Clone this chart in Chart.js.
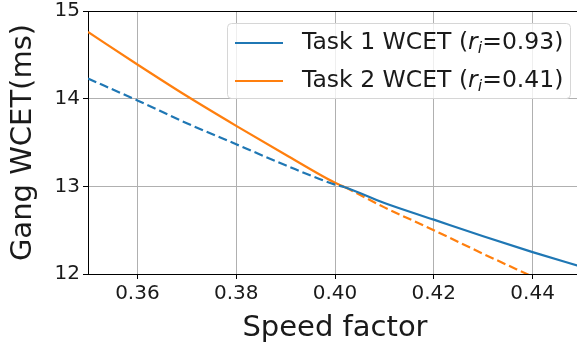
<!DOCTYPE html>
<html>
<head>
<meta charset="utf-8">
<script src="https://cdn.jsdelivr.net/npm/chart.js@4/dist/chart.umd.min.js"></script>
<style>
  html, body { margin: 0; padding: 0; background: #fff; overflow: hidden; }
  #wrap { position: relative; width: 583px; height: 348px; }
</style>
</head>
<body>
<div id="wrap"><canvas id="chart"></canvas></div>
<script>
/* -------------------------
   DATA
------------------------- */
const speedFactor = [0.35, 0.36, 0.37, 0.38, 0.39, 0.40, 0.402, 0.41, 0.42, 0.43, 0.44, 0.45];
const task1Wcet   = [14.23, 13.98, 13.72, 13.48, 13.24, 13.02, 12.99, 12.81, 12.62, 12.43, 12.25, 12.08];
const task2Wcet   = [14.76, 14.39, 14.03, 13.69, 13.36, 13.04, 12.99, 12.76, 12.50, 12.23, 11.97, null];
const taskNames   = ["Task 1 WCET", "Task 2 WCET"];
const taskRatios  = ["0.93", "0.41"];
const crossAt     = 0.402;   // where the curves swap solid / dashed
const xTicks      = [0.36, 0.38, 0.40, 0.42, 0.44];
const yTicks      = [12, 13, 14, 15];

const BLUE = "#1f77b4";
const ORANGE = "#ff7f0e";
const FONT = '"DejaVu Sans", sans-serif';
const TEXT = "#1a1a1a";
const DASH = [9, 4];

function toPoints(ys) {
  return speedFactor.map((x, i) => ({ x, y: ys[i] })).filter(p => p.y !== null);
}

/* -------------------------
   PLUGINS
------------------------- */
// top + right spines (chart.js only draws left/bottom borders)
const frame = {
  id: "frame",
  afterDatasetsDraw(chart) {
    const { ctx, chartArea: a } = chart;
    ctx.save();
    ctx.strokeStyle = "#000";
    ctx.lineWidth = 1;
    ctx.beginPath();
    ctx.moveTo(a.left, a.top + 0.5);
    ctx.lineTo(a.right - 0.5, a.top + 0.5);
    ctx.lineTo(a.right - 0.5, a.bottom);
    ctx.stroke();
    ctx.restore();
  }
};

// legend with italic r and subscript i
const mplLegend = {
  id: "mplLegend",
  afterDraw(chart) {
    const ctx = chart.ctx;
    const bx = 227, by = 23, bw = 343, bh = 75, r = 4;
    ctx.save();
    ctx.beginPath();
    ctx.roundRect(bx + 0.5, by + 0.5, bw, bh, r);
    ctx.fillStyle = "rgba(255,255,255,0.8)";
    ctx.fill();
    ctx.strokeStyle = "#d6d6d6";
    ctx.lineWidth = 1;
    ctx.stroke();

    const colors = [BLUE, ORANGE];
    const rows = [43, 81];
    rows.forEach((y, i) => {
      ctx.strokeStyle = colors[i];
      ctx.lineWidth = 2;
      ctx.beginPath();
      ctx.moveTo(235, y);
      ctx.lineTo(283, y);
      ctx.stroke();

      ctx.fillStyle = TEXT;
      ctx.textBaseline = "middle";
      ctx.textAlign = "left";
      let x = 302;
      const put = (txt, font, dy) => {
        ctx.font = font;
        ctx.fillText(txt, x, y + (dy || 0));
        x += ctx.measureText(txt).width;
      };
      put(taskNames[i] + " (", "23.5px " + FONT);
      put("r", "italic 23.5px " + FONT);
      put("i", "italic 16px " + FONT, 6);
      put("=" + taskRatios[i] + ")", "23.5px " + FONT);
    });
    ctx.restore();
  }
};

/* -------------------------
   CHART
------------------------- */
new Chart(document.getElementById("chart"), {
  type: "line",
  data: {
    datasets: [
      {
        label: taskNames[0],
        data: toPoints(task1Wcet),
        borderColor: BLUE,
        borderWidth: 2.2,
        pointRadius: 0,
        cubicInterpolationMode: "monotone",
        segment: { borderDash: c => (c.p0.parsed.x < crossAt ? DASH : []) }
      },
      {
        label: taskNames[1],
        data: toPoints(task2Wcet),
        borderColor: ORANGE,
        borderWidth: 2.2,
        pointRadius: 0,
        cubicInterpolationMode: "monotone",
        segment: { borderDash: c => (c.p0.parsed.x < crossAt ? [] : DASH) }
      }
    ]
  },
  options: {
    responsive: true,
    maintainAspectRatio: false,
    animation: false,
    layout: { padding: { top: 11, right: 1, left: 0, bottom: 0 } },
    plugins: { legend: { display: false }, tooltip: { enabled: false } },
    scales: {
      x: {
        type: "linear",
        min: 0.35,
        max: 0.45,
        afterBuildTicks: s => { s.ticks = xTicks.map(v => ({ value: v })); },
        afterFit: s => { s.height = 74; s.paddingLeft = 0; s.paddingRight = 0; },
        ticks: {
          color: TEXT,
          font: { family: FONT, size: 20 },
          padding: 3,
          maxRotation: 0,
          callback: v => v.toFixed(2)
        },
        grid: { color: "#b0b0b0", tickColor: "#000", tickLength: 5, lineWidth: 1 },
        border: { color: "#000", width: 1 },
        title: {
          display: true,
          text: "Speed factor",
          color: TEXT,
          font: { family: FONT, size: 29 },
          padding: { top: 0, bottom: 2 }
        }
      },
      y: {
        min: 12,
        max: 15,
        afterBuildTicks: s => { s.ticks = yTicks.map(v => ({ value: v })); },
        afterFit: s => { s.width = 88; s.paddingTop = 0; s.paddingBottom = 0; },
        ticks: {
          color: TEXT,
          font: { family: FONT, size: 20 },
          padding: 3,
          callback: v => String(v)
        },
        grid: { color: "#b0b0b0", tickColor: "#000", tickLength: 5, lineWidth: 1 },
        border: { color: "#000", width: 1 },
        title: {
          display: true,
          text: "Gang WCET(ms)",
          color: TEXT,
          font: { family: FONT, size: 29 },
          padding: { top: 6, bottom: 0 }
        }
      }
    }
  },
  plugins: [frame, mplLegend]
});
</script>
</body>
</html>
